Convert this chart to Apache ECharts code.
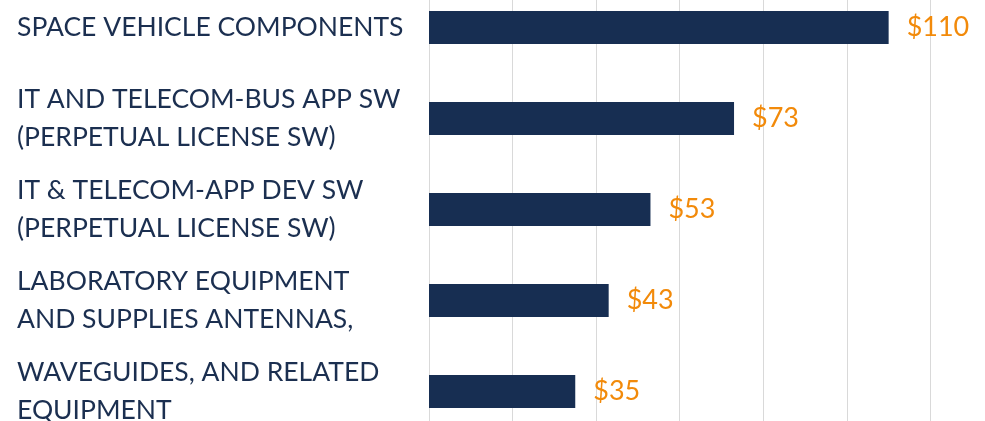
<!DOCTYPE html>
<html>
<head>
<meta charset="utf-8">
<script src="https://cdn.jsdelivr.net/npm/echarts@6/dist/echarts.min.js"></script>
<style>
  html, body { margin: 0; padding: 0; background: #fff; }
  #chart { width: 985px; height: 421px; }
</style>
</head>
<body>
<div id="chart"></div>
<script>
// Categories (top to bottom) and values in $
const categories = [
  'SPACE VEHICLE COMPONENTS',
  'IT AND TELECOM-BUS APP SW\n(PERPETUAL LICENSE SW)',
  'IT & TELECOM-APP DEV SW\n(PERPETUAL LICENSE SW)',
  'LABORATORY EQUIPMENT\nAND SUPPLIES ANTENNAS,',
  'WAVEGUIDES, AND RELATED\nEQUIPMENT'
];
const values = [110, 73, 53, 43, 35];

const chart = echarts.init(document.getElementById('chart'));

chart.setOption({
  animation: false,
  grid: {
    left: 429,
    top: -18,
    width: 585,
    height: 455,
    outerBoundsMode: 'none',
    containLabel: false
  },
  xAxis: {
    type: 'value',
    min: 0,
    max: 140,
    interval: 20,
    axisLabel: { show: false },
    axisLine: { show: false },
    axisTick: { show: false },
    splitLine: { lineStyle: { color: '#d9d9d9', width: 1 } }
  },
  yAxis: {
    type: 'category',
    data: categories,
    inverse: true,
    axisLine: { show: false },
    axisTick: { show: false },
    axisLabel: {
      interval: 0,
      hideOverlap: false,
      align: 'left',
      margin: 412,
      color: '#1b2f50',
      fontFamily: 'Lato',
      fontSize: 26.5,
      lineHeight: 38,
      padding: [0, 0, 10, 0]
    }
  },
  series: [
    {
      type: 'bar',
      data: values,
      barWidth: 33,
      itemStyle: { color: '#172e52' },
      label: {
        show: true,
        position: 'right',
        distance: 18,
        formatter: p => '$' + p.value,
        color: '#f28a0a',
        fontFamily: 'Lato',
        fontSize: 27
      }
    }
  ]
});
</script>
</body>
</html>
